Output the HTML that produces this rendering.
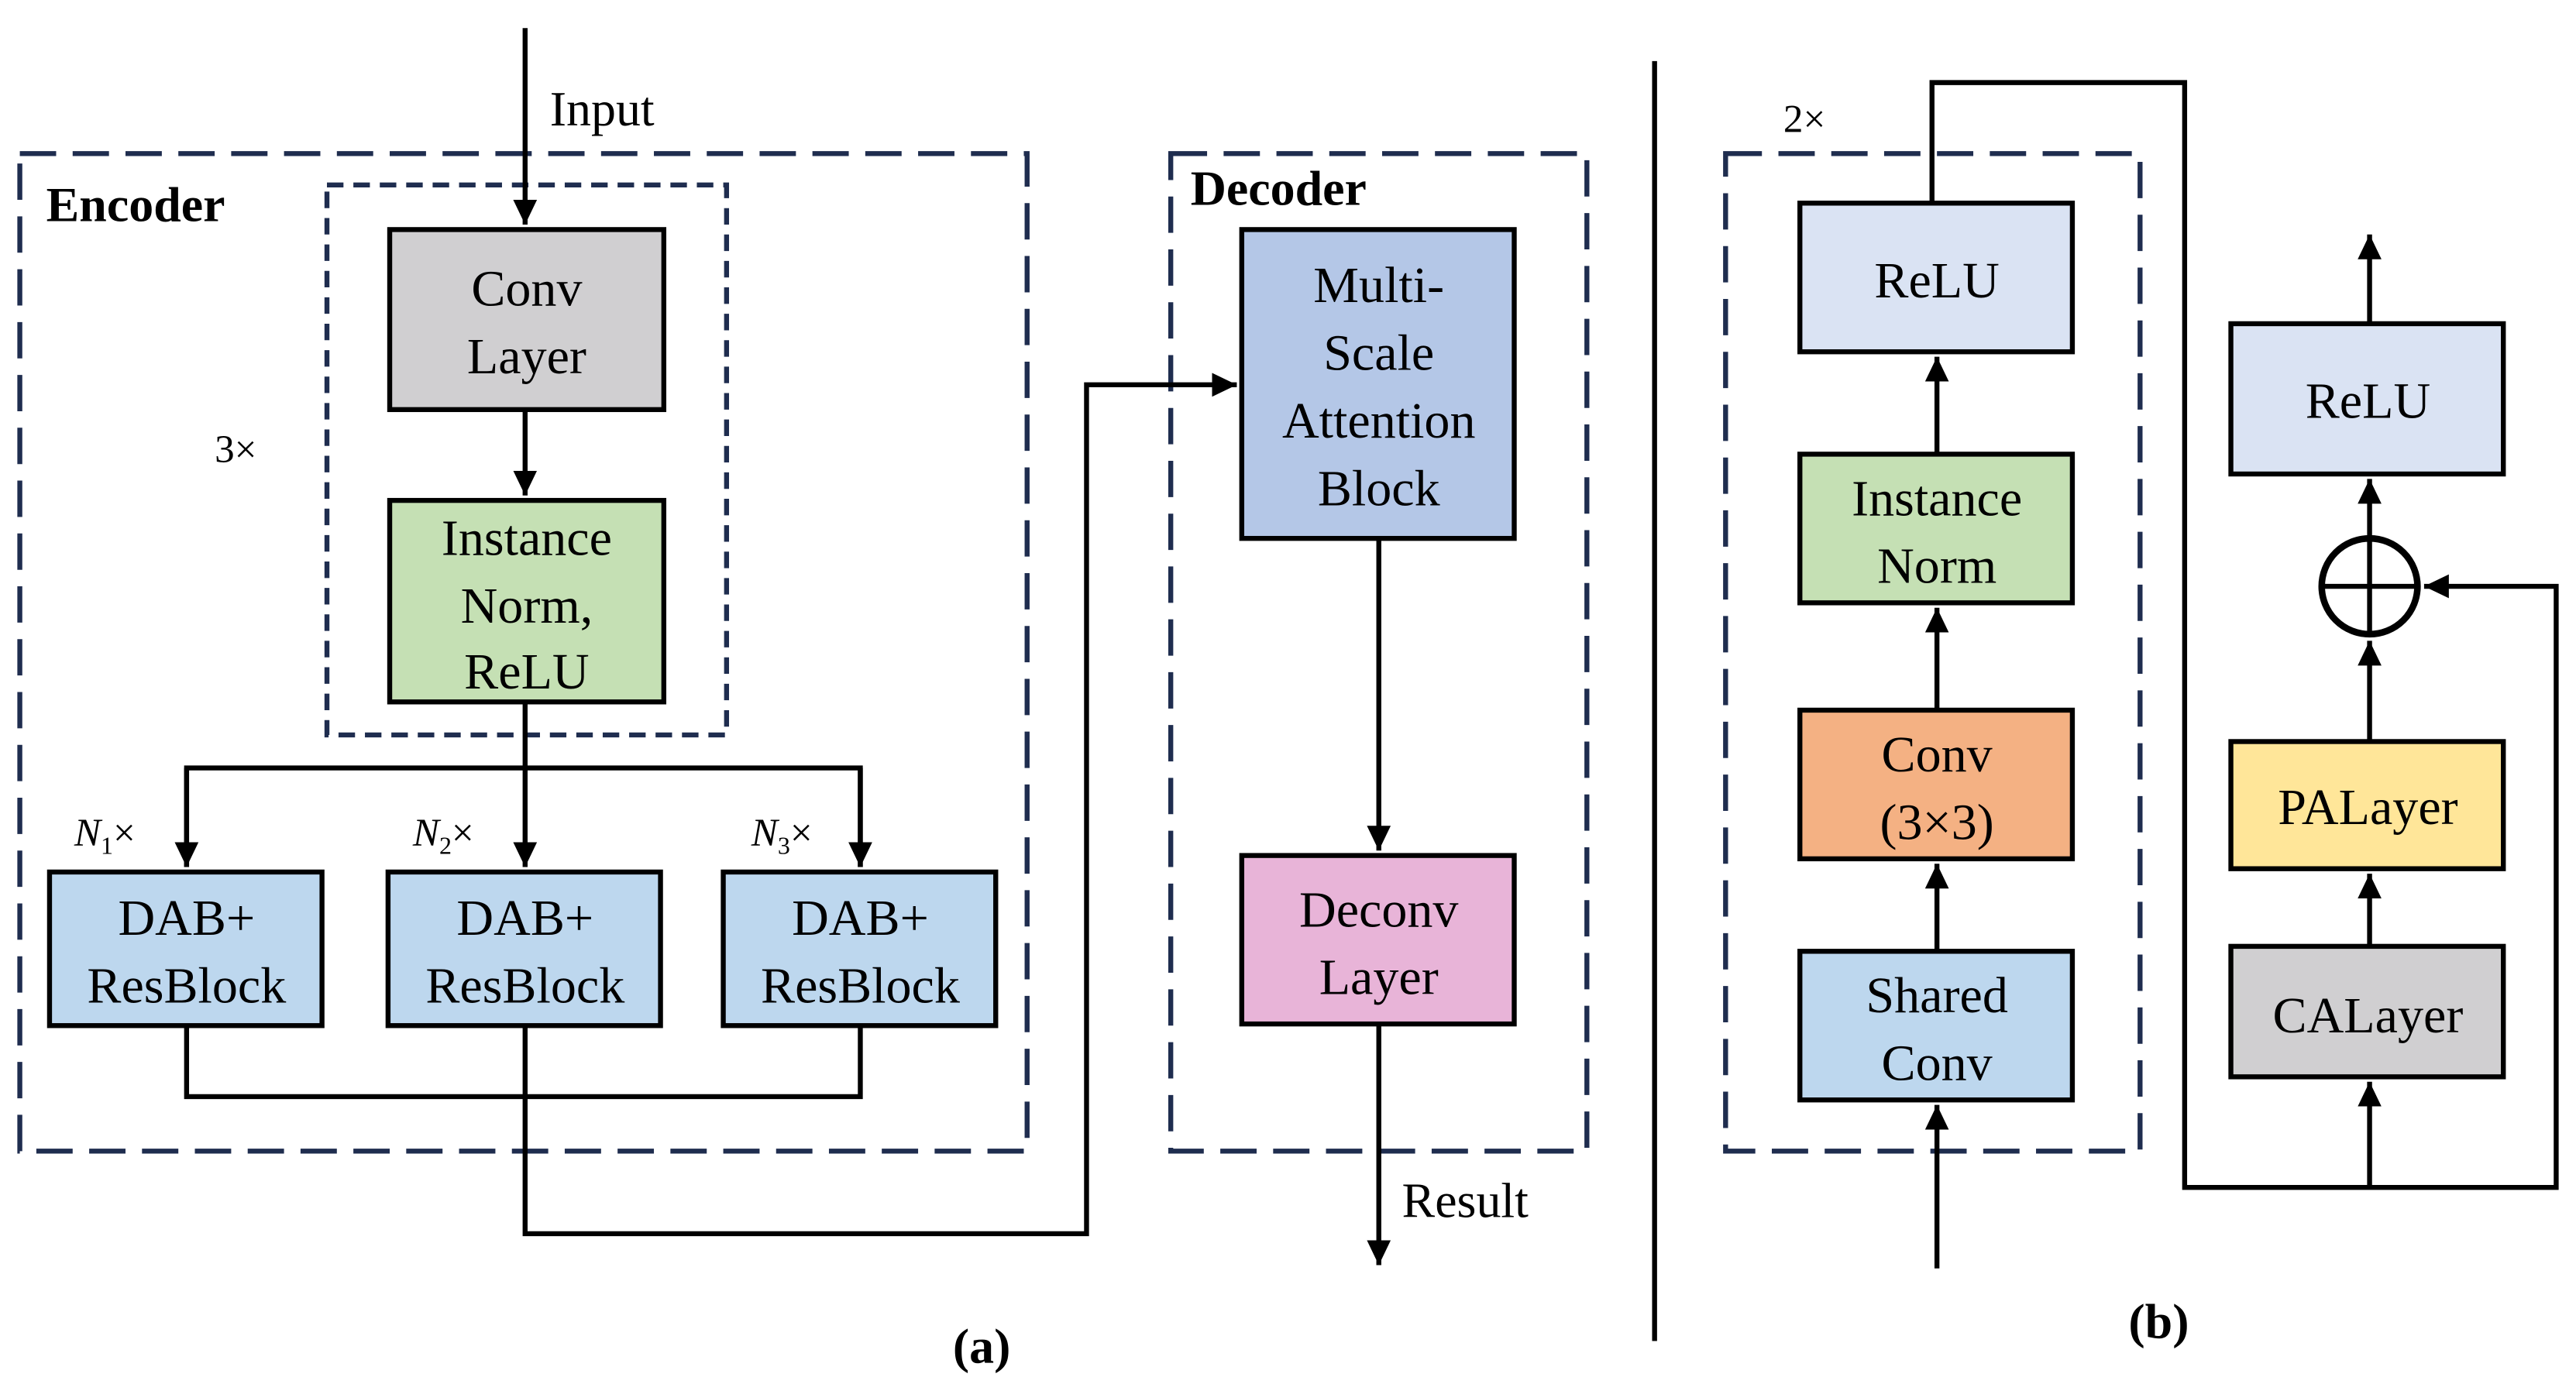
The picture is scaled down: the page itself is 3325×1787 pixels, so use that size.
<!DOCTYPE html>
<html><head><meta charset="utf-8"><style>
html,body{margin:0;padding:0;background:#fff;width:3325px;height:1787px;overflow:hidden}
svg{display:block}
text{font-family:"Liberation Serif",serif;fill:#000}
</style></head><body>
<svg width="3325" height="1787" viewBox="0 0 1560 838" preserveAspectRatio="none" xmlns="http://www.w3.org/2000/svg">
<defs>
<marker id="a" markerWidth="6" markerHeight="6" refX="5" refY="3" orient="auto" markerUnits="strokeWidth"><path d="M0,0.6 L5,3 L0,5.4 z" fill="#000"/></marker>
</defs>
<g fill="none" stroke="#1f2d4f" stroke-width="3">
<rect x="12" y="93" width="610" height="604" stroke-dasharray="22 10"/>
<rect x="198" y="112" width="242" height="333" stroke-dasharray="10 6"/>
<rect x="709" y="93" width="252" height="604" stroke-dasharray="22 10"/>
<rect x="1045" y="93" width="251" height="604" stroke-dasharray="22 10"/>
</g>
<g stroke="#000" stroke-width="3">
<rect x="236" y="139" width="166" height="109" fill="#d0cfd1"/>
<rect x="236" y="303" width="166" height="122" fill="#c5e0b4"/>
<rect x="30" y="528" width="165" height="93" fill="#bdd7ee"/>
<rect x="235" y="528" width="165" height="93" fill="#bdd7ee"/>
<rect x="438" y="528" width="165" height="93" fill="#bdd7ee"/>
<rect x="752" y="139" width="165" height="187" fill="#b4c7e7"/>
<rect x="752" y="518" width="165" height="102" fill="#e8b4d8"/>
<rect x="1090" y="123" width="165" height="90" fill="#dae3f3"/>
<rect x="1090" y="275" width="165" height="90" fill="#c5e0b4"/>
<rect x="1090" y="430" width="165" height="90" fill="#f4b183"/>
<rect x="1090" y="576" width="165" height="90" fill="#bdd7ee"/>
<rect x="1351" y="196" width="165" height="91" fill="#dae3f3"/>
<rect x="1351" y="449" width="165" height="77" fill="#ffe699"/>
<rect x="1351" y="573" width="165" height="79" fill="#d0cfd1"/>
</g>
<g stroke="#000" stroke-width="3" fill="none">
<line x1="318" y1="17" x2="318" y2="136" marker-end="url(#a)"/>
<line x1="318" y1="248" x2="318" y2="300" marker-end="url(#a)"/>
<polyline points="318,425 318,465"/>
<polyline points="113,525 113,465 521,465 521,525" marker-start="none"/>
<line x1="113" y1="465" x2="113" y2="525" marker-end="url(#a)"/>
<line x1="521" y1="465" x2="521" y2="525" marker-end="url(#a)"/>
<line x1="318" y1="465" x2="318" y2="525" marker-end="url(#a)"/>
<polyline points="113,621 113,664 521,664 521,621"/>
<polyline points="318,621 318,747 658,747 658,233 749,233" marker-end="url(#a)"/>
<line x1="835" y1="326" x2="835" y2="515" marker-end="url(#a)"/>
<line x1="835" y1="620" x2="835" y2="766" marker-end="url(#a)"/>
<line x1="1002" y1="37" x2="1002" y2="812"/>
<line x1="1173" y1="768" x2="1173" y2="669" marker-end="url(#a)"/>
<line x1="1173" y1="576" x2="1173" y2="523" marker-end="url(#a)"/>
<line x1="1173" y1="430" x2="1173" y2="368" marker-end="url(#a)"/>
<line x1="1173" y1="275" x2="1173" y2="216" marker-end="url(#a)"/>
<polyline points="1170,123 1170,50 1323,50 1323,719 1548,719 1548,355 1468,355" marker-end="url(#a)"/>
<line x1="1435" y1="719" x2="1435" y2="655" marker-end="url(#a)"/>
<line x1="1435" y1="573" x2="1435" y2="529" marker-end="url(#a)"/>
<line x1="1435" y1="449" x2="1435" y2="388" marker-end="url(#a)"/>
<line x1="1435" y1="325" x2="1435" y2="290" marker-end="url(#a)"/>
<line x1="1435" y1="196" x2="1435" y2="142" marker-end="url(#a)"/>
<circle cx="1435" cy="355" r="29" stroke-width="4"/>
<line x1="1406" y1="355" x2="1464" y2="355"/>
<line x1="1435" y1="326" x2="1435" y2="384"/>
</g>
<g font-size="31" text-anchor="middle">
<text x="319" y="185">Conv</text><text x="319" y="226">Layer</text>
<text x="319" y="336">Instance</text><text x="319" y="377">Norm,</text><text x="319" y="417">ReLU</text>
<text x="113" y="566">DAB+</text><text x="113" y="607">ResBlock</text>
<text x="318" y="566">DAB+</text><text x="318" y="607">ResBlock</text>
<text x="521" y="566">DAB+</text><text x="521" y="607">ResBlock</text>
<text x="835" y="183">Multi-</text><text x="835" y="224">Scale</text><text x="835" y="265">Attention</text><text x="835" y="306">Block</text>
<text x="835" y="561">Deconv</text><text x="835" y="602">Layer</text>
<text x="1173" y="180">ReLU</text>
<text x="1173" y="312">Instance</text><text x="1173" y="353">Norm</text>
<text x="1173" y="467">Conv</text><text x="1173" y="508">(3×3)</text>
<text x="1173" y="613">Shared</text><text x="1173" y="654">Conv</text>
<text x="1434" y="253">ReLU</text>
<text x="1434" y="499">PALayer</text>
<text x="1434" y="625">CALayer</text>
</g>
<g font-size="30">
<text x="333" y="76">Input</text>
<text x="849" y="737">Result</text>
<text x="28" y="134" font-weight="bold">Encoder</text>
<text x="721" y="124" font-weight="bold">Decoder</text>
<text x="577" y="825" font-weight="bold">(a)</text>
<text x="1289" y="810" font-weight="bold">(b)</text>
</g>
<g font-size="24">
<text x="130" y="280">3×</text>
<text x="1080" y="80">2×</text>
<text x="45" y="512"><tspan font-style="italic">N</tspan><tspan font-size="15" dy="5">1</tspan><tspan dy="-5">×</tspan></text>
<text x="250" y="512"><tspan font-style="italic">N</tspan><tspan font-size="15" dy="5">2</tspan><tspan dy="-5">×</tspan></text>
<text x="455" y="512"><tspan font-style="italic">N</tspan><tspan font-size="15" dy="5">3</tspan><tspan dy="-5">×</tspan></text>
</g>
</svg>
</body></html>
